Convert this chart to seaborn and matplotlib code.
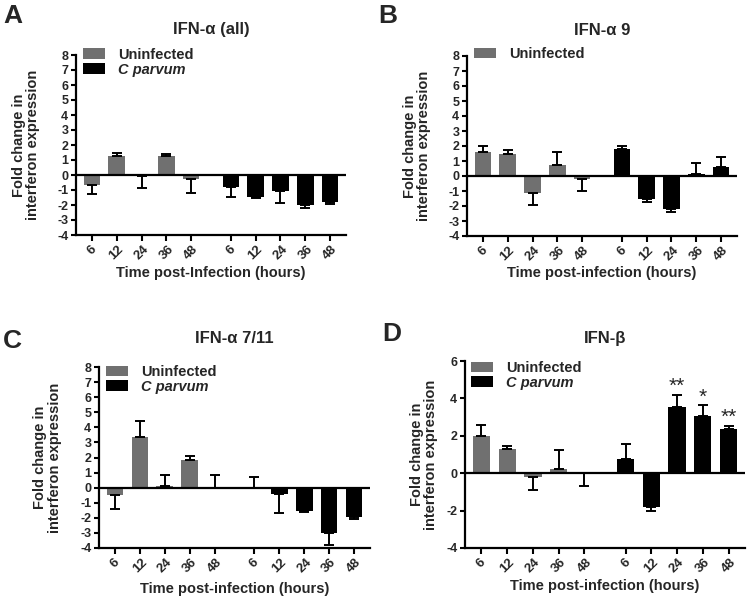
import matplotlib
matplotlib.use('Agg')
import pandas as pd
import seaborn as sns
import matplotlib.pyplot as plt
from matplotlib.patches import Patch

# hours post infection, repeated for each group
hours = ['6', '12', '24', '36', '48']
groups = ['Uninfected', 'C parvum']

# mean fold change and tip of the (one-sided) error bar
a_uninf = [-0.69, 1.27, -0.09, 1.24, -0.29]
a_uninf_tip = [-1.24, 1.44, -0.84, 1.38, -1.22]
a_cpar = [-0.78, -1.44, -1.09, -2.0, -1.78]
a_cpar_tip = [-1.47, -1.56, -1.84, -2.2, -1.93]

b_uninf = [1.58, 1.44, -1.13, 0.76, -0.2]
b_uninf_tip = [1.98, 1.71, -1.93, 1.58, -0.98]
b_cpar = [1.78, -1.53, -2.18, 0.11, 0.6]
b_cpar_tip = [2.0, -1.76, -2.38, 0.84, 1.24]

c_uninf = [-0.51, 3.36, 0.09, 1.82, 0.0]
c_uninf_tip = [-1.42, 4.44, 0.87, 2.13, 0.82]
c_cpar = [0.0, -0.4, -1.56, -3.0, -1.93]
c_cpar_tip = [0.71, -1.69, -1.62, -3.82, -2.09]

d_uninf = [2.0, 1.32, -0.18, 0.23, 0.0]
d_uninf_tip = [2.57, 1.46, -0.89, 1.23, -0.71]
d_cpar = [0.77, -1.79, 3.55, 3.05, 2.38]
d_cpar_tip = [1.54, -2.0, 4.2, 3.63, 2.54]
d_stars = ['', '', '**', '*', '**']

palette = {'Uninfected': '#707070', 'C parvum': '#000000'}

sns.set_style('ticks')
plt.rcParams['font.family'] = ['Liberation Sans', 'DejaVu Sans']

W, H = 747, 596
fig = plt.figure(figsize=(W / 100, H / 100), dpi=100)


def px_axes(left, top, right, bottom):
    # axes rectangle given in pixel coordinates of the reference
    return fig.add_axes([left / W, 1 - bottom / H, (right - left) / W, (bottom - top) / H])


def draw_panel(ax, title, uninf, uninf_tip, cpar, cpar_tip, ylim, yticks,
               xlabel, legend_groups, title_pad, ylab_x, xlab_y, leg_anchor, stars=None):
    pos = list(range(5)) + [5.6 + i for i in range(5)]
    df = pd.DataFrame({
        'pos': pos,
        'value': uninf + cpar,
        'tip': uninf_tip + cpar_tip,
        'group': [groups[0]] * 5 + [groups[1]] * 5,
    })
    sns.barplot(data=df, x='pos', y='value', hue='group', native_scale=True, dodge=False,
                palette=palette, width=0.67, errorbar=None, legend=False,
                linewidth=0, ax=ax)
    lower = (df['value'] - df['tip']).clip(lower=0)
    upper = (df['tip'] - df['value']).clip(lower=0)
    ax.errorbar(df['pos'], df['value'], yerr=[lower, upper], fmt='none', ecolor='black',
                elinewidth=1.4, capsize=3.8, capthick=1.4, zorder=3)
    ax.axhline(0, color='black', lw=1.6, zorder=4)

    if stars:
        for x, tip, s in zip(pos[5:], cpar_tip, stars):
            if s:
                ax.text(x, tip + 0.15, s, ha='center', va='baseline', fontsize=15)

    ax.set_xlim(-0.64, 10.24)
    ax.set_ylim(*ylim)
    ax.set_yticks(yticks)
    ax.set_yticklabels([str(t) for t in yticks], fontweight='bold', fontsize=9)
    ax.set_xticks(pos)
    ax.set_xticklabels(hours * 2, rotation=45, ha='center', fontweight='bold', fontsize=9.5)
    ax.tick_params(axis='both', direction='out', width=1.5, length=3.5, pad=2, color='black')
    ax.tick_params(axis='x', length=4)

    for side in ['left', 'bottom']:
        ax.spines[side].set_linewidth(1.6)
        ax.spines[side].set_color('black')
    sns.despine(ax=ax)

    ax.set_title(title, fontweight='bold', fontsize=12, pad=title_pad)
    ax.set_ylabel('Fold change in\ninterferon expression', fontweight='bold',
                  fontsize=10.5, linespacing=1.05)
    ax.yaxis.set_label_coords(ylab_x, 0.5)
    ax.set_xlabel(xlabel, fontweight='bold', fontsize=10.5, va='top')
    ax.xaxis.set_label_coords(0.5, xlab_y)

    handles = [Patch(facecolor=palette[g], edgecolor='none') for g in legend_groups]
    leg = ax.legend(handles, legend_groups, loc='upper left', bbox_to_anchor=leg_anchor,
                    frameon=False, fontsize=10.5, handlelength=1.5, handleheight=0.75,
                    handletextpad=0.9, labelspacing=0.05, borderpad=0, borderaxespad=0)
    for t in leg.get_texts():
        t.set_fontweight('bold')
        if t.get_text() == 'C parvum':
            t.set_style('italic')


ax_a = px_axes(76, 55, 346, 235)
draw_panel(ax_a, 'IFN-α (all)', a_uninf, a_uninf_tip, a_cpar, a_cpar_tip,
           (-4, 8), list(range(-4, 9)), 'Time post-Infection (hours)', groups,
           15, -0.133, -0.175, (0.026, 1.04))

ax_b = px_axes(467, 56, 737, 236)
draw_panel(ax_b, 'IFN-α 9', b_uninf, b_uninf_tip, b_cpar, b_cpar_tip,
           (-4, 8), list(range(-4, 9)), 'Time post-infection (hours)', groups[:1],
           15, -0.133, -0.165, (0.026, 1.05))

ax_c = px_axes(99, 367, 370, 548)
draw_panel(ax_c, 'IFN-α 7/11', c_uninf, c_uninf_tip, c_cpar, c_cpar_tip,
           (-4, 8), list(range(-4, 9)), 'Time post-infection (hours)', groups,
           17, -0.137, -0.188, (0.026, 1.01))

ax_d = px_axes(465, 361, 745, 548)
draw_panel(ax_d, 'IFN-β', d_uninf, d_uninf_tip, d_cpar, d_cpar_tip,
           (-4, 6), list(range(-4, 7, 2)), 'Time post-infection (hours)', groups,
           13, -0.096, -0.168, (0.022, 1.0), stars=d_stars)

for letter, x, y in [('A', 3, 23), ('B', 378, 23), ('C', 3, 348), ('D', 382, 341)]:
    fig.text(x / W, 1 - y / H, letter, fontsize=19, fontweight='bold', va='baseline', ha='left')

fig.savefig('out.png', dpi=100)
